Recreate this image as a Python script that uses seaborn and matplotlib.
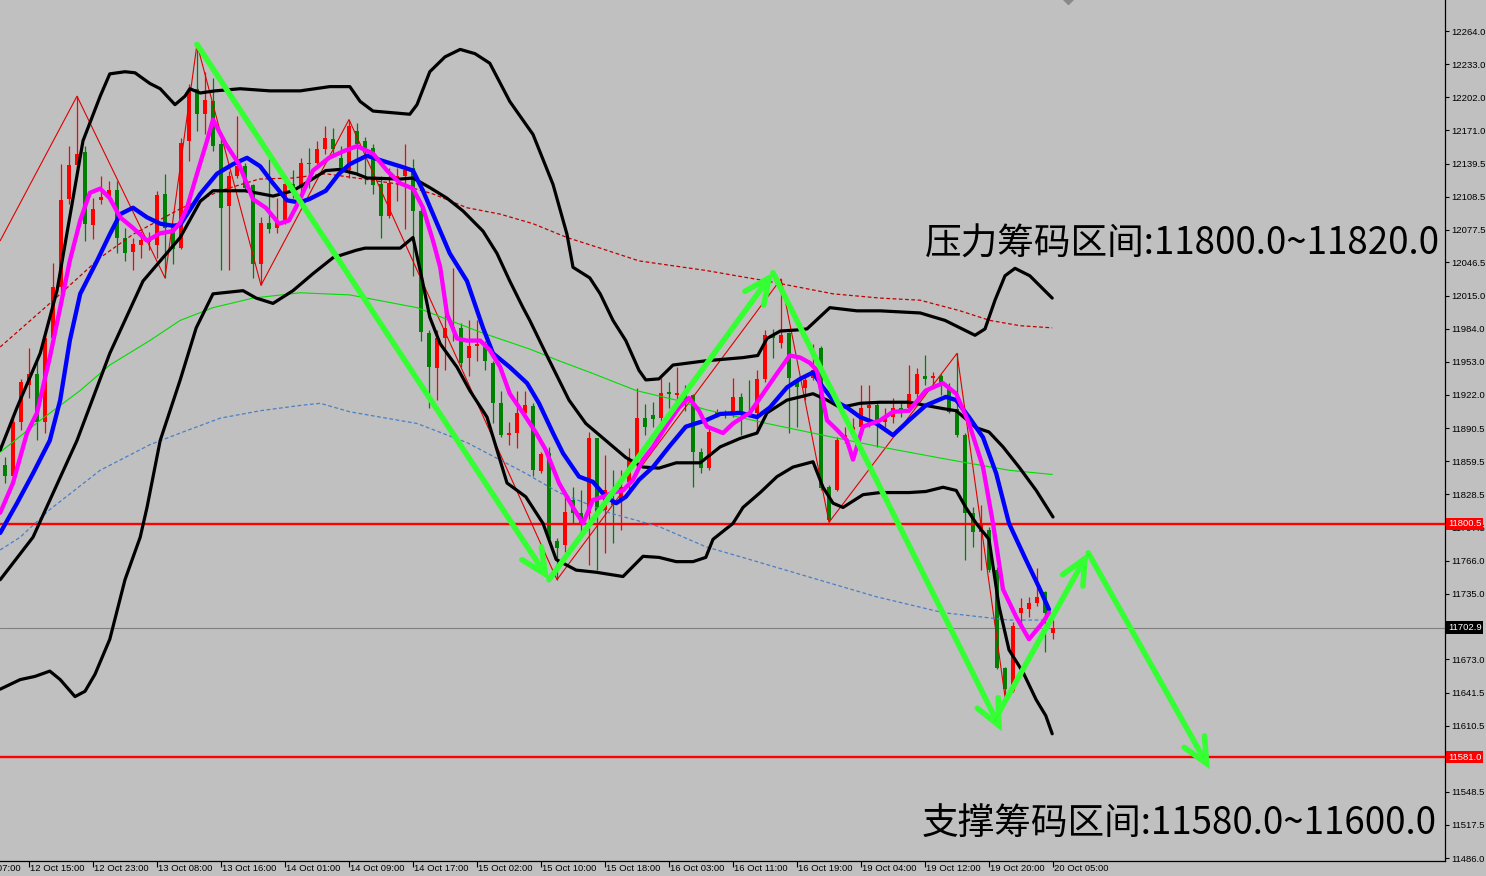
import numpy as np
import pandas as pd
import matplotlib
matplotlib.use("Agg")
import matplotlib.pyplot as plt
import matplotlib.transforms as mtransforms
import seaborn as sns

sns.set_theme(style="white")
plt.rcParams['font.family'] = ['Liberation Sans', 'DejaVu Sans']

# ---------------- candle data (hourly bars, index 0..131) ----------------
opens = [11856, 11846, 11896, 11931, 11942, 11896, 11975, 12023, 12106, 12138,
         12150, 12082, 12105, 12109, 12115, 12070, 12056, 12063, 12066, 12063,
         12111, 12078, 12060, 12161, 12210, 12186, 12198, 12158, 12100, 12128,
         12137, 12119, 12045, 12084, 12079, 12084, 12120, 12117, 12140, 12140,
         12153, 12163, 12145, 12134, 12170, 12161, 12154, 12120, 12090, 12125,
         12128, 12135, 12095, 11980, 11947, 11975, 11984, 11985, 11957, 11968,
         11967, 11952, 11914, 11884, 11886, 11905, 11911, 11850, 11867, 11784,
         11781, 11823, 11811, 11811, 11881, 11814, 11821, 11823, 11840, 11861,
         11900, 11903, 11900, 11924, 11922, 11923, 11922, 11868, 11853, 11903,
         11905, 11905, 11920, 11905, 11905, 11937, 11978, 11971, 11980, 11934,
         11928, 11938, 11966, 11835, 11832, 11882, 11889, 11892, 11910, 11912,
         11896, 11901, 11910, 11910, 11923, 11940, 11938, 11940, 11929, 11909,
         11884, 11811, 11793, 11795, 11757, 11665, 11643, 11717, 11720, 11726,
         11736, 11698]
highs = [11863, 11903, 11937, 11966, 11956, 11980, 12046, 12139, 12156, 12203,
         12156, 12107, 12128, 12123, 12123, 12079, 12070, 12076, 12075, 12114,
         12130, 12084, 12164, 12214, 12252, 12226, 12220, 12164, 12133, 12184,
         12140, 12120, 12089, 12144, 12107, 12126, 12134, 12145, 12154, 12161,
         12175, 12173, 12156, 12181, 12178, 12165, 12158, 12128, 12135, 12135,
         12158, 12144, 12098, 11983, 11983, 12011, 12041, 11990, 11992, 11992,
         11973, 11954, 11926, 11896, 11926, 11926, 11914, 11868, 11873, 11787,
         11830, 11835, 11832, 11887, 11881, 11865, 11851, 11851, 11872, 11928,
         11913, 11915, 11938, 11934, 11948, 11931, 11923, 11872, 11891, 11909,
         11908, 11938, 11924, 11936, 11945, 11983, 11984, 12031, 11981, 11936,
         11940, 11970, 11968, 11837, 11882, 11892, 11900, 11931, 11931, 11914,
         11910, 11919, 11915, 11950, 11947, 11959, 11943, 11942, 11933, 11961,
         11886, 11816, 11818, 11798, 11760, 11666, 11708, 11731, 11732, 11759,
         11737, 11710]
lows = [11839, 11845, 11889, 11919, 11879, 11886, 11973, 12017, 12102, 12135,
        12067, 12069, 12102, 12104, 12055, 12048, 12039, 12051, 12058, 12051,
        12032, 12045, 12059, 12142, 12170, 12167, 12151, 12039, 12039, 12126,
        12114, 12032, 12025, 12074, 12074, 12083, 12107, 12111, 12117, 12139,
        12149, 12149, 12131, 12126, 12131, 12120, 12111, 12070, 12088, 12104,
        12078, 12034, 11973, 11910, 11917, 11945, 11973, 11948, 11940, 11954,
        11945, 11895, 11882, 11875, 11872, 11901, 11846, 11848, 11783, 11748,
        11774, 11801, 11790, 11762, 11757, 11773, 11783, 11795, 11832, 11854,
        11884, 11892, 11895, 11910, 11917, 11907, 11835, 11848, 11851, 11901,
        11900, 11901, 11884, 11901, 11889, 11934, 11957, 11966, 11886, 11892,
        11917, 11936, 11832, 11802, 11831, 11877, 11887, 11886, 11892, 11873,
        11892, 11895, 11901, 11906, 11915, 11931, 11929, 11922, 11905, 11882,
        11767, 11779, 11757, 11755, 11664, 11638, 11642, 11704, 11713, 11723,
        11680, 11692]
closes = [11846, 11896, 11934, 11942, 11896, 11975, 12023, 12105, 12138, 12149,
          12083, 12097, 12108, 12115, 12070, 12055, 12064, 12068, 12067, 12110,
          12079, 12059, 12159, 12208, 12186, 12199, 12156, 12098, 12128, 12137,
          12117, 12045, 12084, 12078, 12086, 12120, 12114, 12140, 12139, 12153,
          12164, 12153, 12134, 12175, 12158, 12154, 12119, 12090, 12121, 12128,
          12134, 12095, 11981, 11948, 11975, 11985, 11986, 11952, 11968, 11970,
          11954, 11914, 11884, 11886, 11905, 11912, 11851, 11866, 11786, 11778,
          11812, 11811, 11801, 11881, 11811, 11832, 11818, 11835, 11861, 11900,
          11892, 11899, 11924, 11923, 11924, 11917, 11868, 11853, 11887, 11906,
          11904, 11920, 11905, 11903, 11937, 11978, 11975, 11978, 11938, 11929,
          11936, 11945, 11834, 11804, 11879, 11884, 11892, 11910, 11912, 11898,
          11901, 11910, 11907, 11923, 11942, 11937, 11940, 11933, 11906, 11884,
          11811, 11793, 11800, 11757, 11665, 11645, 11704, 11721, 11726, 11732,
          11717, 11702.9]

# ---------------- indicator lines (bar index, price) ----------------
bb_upper_x = [-0.6, 1.5, 4.4, 6.5, 9.75, 11.9, 13.1, 15, 16.25, 18.1, 19.4, 21.25, 22.5, 23.1, 24.4,
              26.25, 29.4, 33.1, 36.9, 40.6, 43.1, 44.4, 46, 50.6, 51.5, 53.1, 55, 56.9, 58.75,
              60.6, 63.1, 66, 68.5, 70.25, 71, 73.1, 74.4, 76, 77.6, 79.25, 80.1, 81.75, 83.5,
              87.6, 92.25, 94.1, 95.25, 96.9, 99, 100.25, 103.1, 106.5, 109.4, 114.4, 117.5,
              121.25, 122.5, 123.75, 125, 126.25, 128.1, 130.9]
bb_upper_y = [11870, 11910, 11961, 12020, 12161, 12203, 12224, 12226, 12225, 12215, 12210, 12195,
              12203, 12210, 12206, 12208, 12210, 12208, 12208, 12212, 12212, 12198, 12189, 12186,
              12195, 12226, 12240, 12247, 12243, 12234, 12198, 12167, 12120, 12073, 12042, 12032,
              12017, 11992, 11973, 11945, 11936, 11937, 11950, 11954, 11957, 11959, 11975, 11982,
              11983, 11984, 12004, 12001, 12001, 11999, 11992, 11978, 11984, 12011, 12034, 12041,
              12034, 12013]
bb_mid_x = [-0.6, 3.5, 9, 13.1, 17.25, 21.9, 24.4, 26, 30, 33.5, 36, 38, 40.1, 41.75, 43.9, 45.25,
            49.4, 51, 53.1, 55.25, 57.25, 59.75, 61.5, 63.1, 64.75, 65.6, 67.6, 70.5, 72.6, 75.1,
            77.6, 79.75, 81.75, 83.9, 86.9, 89.4, 91.9, 94, 95.25, 97.75, 99.4, 101, 102.75, 104.4,
            106.9, 109.4, 113, 115.1, 117.25, 118.9, 121.4, 123, 124.75, 126.75, 128.9, 131]
bb_mid_y = [11748, 11788, 11879, 11961, 12029, 12070, 12104, 12114, 12114, 12109, 12114, 12123,
            12133, 12134, 12130, 12126, 12125, 12126, 12117, 12107, 12095, 12076, 12055, 12029,
            12004, 11992, 11961, 11917, 11895, 11879, 11863, 11854, 11853, 11858, 11858, 11873,
            11881, 11886, 11905, 11917, 11920, 11923, 11917, 11910, 11914, 11915, 11915, 11912,
            11909, 11907, 11891, 11887, 11873, 11854, 11832, 11807]
bb_lower_x = [-0.6, 1.9, 3.75, 5.6, 6.9, 8.75, 10, 11.25, 13.1, 15, 16.9, 17.75, 19.4, 21.9, 23.9,
              26, 29.75, 31.4, 33.5, 36, 38.5, 41, 43.9, 45, 49.4, 51, 52.1, 53.1, 54.4, 56.5, 58.1,
              60.25, 61.5, 62.75, 65.1, 67.25, 68.9, 71.4, 73.9, 77.25, 79.75, 81.75, 83.9, 86,
              87.6, 88.5, 91, 92.25, 94.4, 96.5, 98.5, 101, 102.25, 103.5, 104.75, 107.25, 109.4,
              113, 115.1, 117.25, 118.9, 120.1, 121.4, 123, 124.25, 125.5, 127.25, 128.9, 130.1,
              130.9]
bb_lower_y = [11645, 11654, 11657, 11662, 11654, 11638, 11643, 11659, 11692, 11748, 11788, 11816,
              11879, 11936, 11985, 12017, 12020, 12013, 12008, 12020, 12036, 12051, 12058, 12060,
              12060, 12070, 12032, 11995, 11970, 11948, 11926, 11901, 11870, 11839, 11826, 11801,
              11767, 11757, 11755, 11751, 11770, 11769, 11765, 11765, 11769, 11786, 11801, 11816,
              11830, 11845, 11854, 11859, 11835, 11820, 11816, 11828, 11830, 11830, 11831, 11835,
              11832, 11816, 11801, 11786, 11723, 11682, 11661, 11635, 11620, 11603]
ma_blue_x = [-0.6, 1.5, 3.5, 5.6, 6.9, 8.1, 9.4, 11.5, 13.1, 14.4, 16, 17.75, 19.4, 21, 21.9, 24.4,
             26.5, 28.5, 30.25, 31.9, 33.5, 35.25, 36.75, 38, 40.1, 41.75, 43.1, 45.25, 47.25, 49.4,
             51, 52.25, 53.5, 55.6, 57.75, 59.75, 61, 63.1, 65.25, 66.75, 68.5, 69.75, 71.75, 73.5,
             75.1, 76.4, 77.6, 79.25, 81, 83, 85.1, 87.6, 89.4, 91.9, 94, 95.6, 97.75, 99.4, 101,
             102.25, 103.5, 105.25, 106.9, 108.9, 111, 113, 115.1, 117.6, 118.9, 120.5, 122.25,
             123.9, 125.5, 127.6, 129.25, 130.5]
ma_blue_y = [11792, 11820, 11848, 11879, 11917, 11973, 12017, 12048, 12073, 12092, 12098, 12089,
             12083, 12081, 12082, 12111, 12130, 12139, 12145, 12137, 12121, 12105, 12103, 12106,
             12114, 12130, 12139, 12147, 12142, 12137, 12133, 12114, 12092, 12055, 12029, 11985,
             11961, 11948, 11933, 11914, 11886, 11867, 11845, 11840, 11826, 11820, 11826, 11842,
             11854, 11873, 11892, 11898, 11904, 11905, 11901, 11910, 11929, 11937, 11943, 11929,
             11917, 11910, 11901, 11895, 11884, 11898, 11912, 11920, 11917, 11901, 11882, 11848,
             11801, 11767, 11741, 11720]
ma_mag_x = [-0.6, 1, 2.75, 4, 5.6, 6.9, 8.1, 9.4, 10.6, 11.9, 13.1, 14.4, 16, 17.75, 19.4, 21, 21.9,
            22.75, 24, 25.25, 26, 27.6, 29.25, 31, 32.6, 34.25, 35.5, 36.75, 38.5, 40.5, 42.25, 44,
            46, 47.75, 49.4, 51, 52.25, 53.5, 54.4, 55.25, 56.5, 57.75, 59.4, 60.6, 61.9, 63.1,
            64.75, 66.4, 67.6, 69.25, 71, 72.25, 73.5, 74.75, 76, 77.25, 78.5, 79.75, 81, 82.6,
            84.25, 85.5, 86.75, 87.75, 89.75, 91, 93.1, 94.75, 96.5, 98.1, 99.4, 100.6, 101.5,
            102.75, 104, 105.25, 106, 107.25, 109.4, 111, 113, 115.1, 117.25, 118.9, 120.5, 122.25,
            123.5, 124.75, 126.4, 128, 129.75, 130.5]
ma_mag_y = [11811, 11839, 11886, 11905, 11957, 12004, 12048, 12086, 12112, 12116, 12107, 12089,
            12079, 12067, 12074, 12076, 12084, 12098, 12130, 12161, 12181, 12158, 12139, 12106,
            12098, 12083, 12086, 12104, 12133, 12145, 12151, 12156, 12149, 12133, 12121, 12116,
            12098, 12067, 12042, 11998, 11975, 11973, 11973, 11964, 11948, 11923, 11905, 11886,
            11870, 11839, 11816, 11801, 11823, 11826, 11830, 11832, 11842, 11861, 11873, 11892,
            11910, 11919, 11907, 11892, 11886, 11895, 11905, 11923, 11942, 11959, 11957, 11952,
            11945, 11898, 11889, 11879, 11861, 11892, 11898, 11906, 11907, 11926, 11933, 11923,
            11895, 11854, 11801, 11739, 11713, 11692, 11708, 11717]
ma_green_x = [-0.6, 4.4, 9.4, 13.1, 18.1, 21.9, 26, 31, 36.9, 43.1, 51.5, 55.6, 59.75, 65.6, 69.25,
              73.5, 78.9, 83.9, 87.6, 95.25, 103.5, 109.4, 117.25, 125.5, 130.9]
ma_green_y = [11868, 11898, 11926, 11950, 11973, 11992, 12004, 12013, 12018, 12016, 12004, 11992,
              11980, 11965, 11954, 11942, 11926, 11917, 11908, 11895, 11882, 11873, 11862, 11851,
              11847]
ma_reddash_x = [-0.6, 5.6, 11.9, 16, 21.9, 26.9, 31.75, 36, 40.1, 43.9, 49.4, 53.5, 57.75, 61.9, 66,
                70.25, 74.4, 79.25, 87.6, 95.25, 99.4, 103.5, 109.4, 114.4, 119.4, 123.1, 126.9,
                130.9]
ma_reddash_y = [11967, 12008, 12051, 12073, 12097, 12114, 12125, 12126, 12130, 12126, 12120, 12111,
                12098, 12092, 12083, 12070, 12060, 12048, 12039, 12029, 12023, 12017, 12013, 12011,
                12001, 11992, 11987, 11985]
ma_bluedash_x = [-0.6, 1.9, 5.6, 11.9, 18.1, 21.9, 26.9, 31.9, 36.9, 39.4, 43.1, 51.5, 57.75, 65.1,
                 69.25, 75.5, 81.75, 87.6, 93.1, 99.4, 108.9, 117.25, 125.5, 130.5]
ma_bluedash_y = [11776, 11788, 11814, 11851, 11875, 11886, 11900, 11907, 11912, 11914, 11906, 11895,
                 11877, 11848, 11830, 11811, 11798, 11779, 11767, 11753, 11732, 11717, 11710, 11710]

# zigzag pivots: bar indices, alternating high / low
zigzag_idx = [9, 20, 24, 32, 43, 69, 97, 103, 119, 125]
zigzag_start = (-0.6, 12067)

# green hand-drawn arrows (bar index, price)
arrow_pts_x = [24.0, 68.0, 96.0, 124.6]
arrow_pts_y = [12251.7, 11748.0, 12036.9, 11605.4]
arrow2_pts_x = [124.1, 135.4, 150.6]
arrow2_pts_y = [11621.3, 11773.3, 11569.7]

# horizontal levels
level_resist = 11800.5
level_support = 11581.0
last_price = 11702.9

ytick_vals = [12264.0, 12233.0, 12202.0, 12171.0, 12139.5, 12108.5, 12077.5, 12046.5, 12015.0,
              11984.0, 11953.0, 11922.0, 11890.5, 11859.5, 11828.5, 11797.5, 11766.0, 11735.0,
              11673.0, 11641.5, 11610.5, 11548.5, 11517.5, 11486.0]
xtick_idx = [-5, 3, 11, 19, 27, 35, 43, 51, 59, 67, 75, 83, 91, 99, 107, 115, 123, 131]
xtick_labels = ["12 Oct 07:00", "12 Oct 15:00", "12 Oct 23:00", "13 Oct 08:00", "13 Oct 16:00",
                "14 Oct 01:00", "14 Oct 09:00", "14 Oct 17:00", "15 Oct 02:00", "15 Oct 10:00",
                "15 Oct 18:00", "16 Oct 03:00", "16 Oct 11:00", "16 Oct 19:00", "19 Oct 04:00",
                "19 Oct 12:00", "19 Oct 20:00", "20 Oct 05:00"]

text_resist = "压力筹码区间:11800.0~11820.0"
text_support = "支撑筹码区间:11580.0~11600.0"

# ---------------- figure ----------------
BG = '#c0c0c0'
fig = plt.figure(figsize=(14.86, 8.76), dpi=100, facecolor=BG)
ax = fig.add_axes([0, 15 / 876, 1445 / 1486, 861 / 876])
ax.set_facecolor(BG)
ax.set_xlim(-0.625, 180.0)
ax.set_ylim(11483.3, 12293.5)

df = pd.DataFrame({"o": opens, "h": highs, "l": lows, "c": closes})
df["i"] = np.arange(len(df))
up = df["c"] >= df["o"]
colors = np.where(up, '#ff0000', '#008000')

# wicks
ax.vlines(df["i"], df["l"], df["h"], colors=colors, linewidth=0.9, zorder=2)
# bodies
body_bottom = np.minimum(df["o"], df["c"])
body_h = np.maximum(np.abs(df["c"] - df["o"]), 1.2)
ax.bar(df["i"], body_h, bottom=body_bottom, width=0.62, color=colors, linewidth=0, zorder=3)

# horizontal levels
ax.axhline(last_price, color='#808080', lw=0.8, zorder=1)
ax.axhline(level_resist, color='#ff0000', lw=1.7, zorder=4)
ax.axhline(level_support, color='#ff0000', lw=1.7, zorder=4)

# zigzag
zz_x = [zigzag_start[0]]
zz_y = [zigzag_start[1]]
for k, idx in enumerate(zigzag_idx):
    zz_x.append(idx)
    zz_y.append(highs[idx] if k % 2 == 0 else lows[idx])
sns.lineplot(x=zz_x, y=zz_y, ax=ax, color='#e00000', linewidth=0.8, sort=False,
             estimator=None, legend=False, zorder=4)

# moving averages / bands
sns.lineplot(x=ma_bluedash_x, y=ma_bluedash_y, ax=ax, color='#4a7fc8', linewidth=0.9,
             linestyle=(0, (3, 2)), sort=False, estimator=None, legend=False, zorder=4)
sns.lineplot(x=ma_reddash_x, y=ma_reddash_y, ax=ax, color='#c00000', linewidth=0.9,
             linestyle=(0, (3, 2)), sort=False, estimator=None, legend=False, zorder=4)
sns.lineplot(x=ma_green_x, y=ma_green_y, ax=ax, color='#00dd00', linewidth=0.8,
             sort=False, estimator=None, legend=False, zorder=4)
for bx, by in [(bb_upper_x, bb_upper_y), (bb_mid_x, bb_mid_y), (bb_lower_x, bb_lower_y)]:
    sns.lineplot(x=bx, y=by, ax=ax, color='black', linewidth=2.3, sort=False,
                 estimator=None, legend=False, zorder=5)
sns.lineplot(x=ma_blue_x, y=ma_blue_y, ax=ax, color='#0000ff', linewidth=3.1, sort=False,
             estimator=None, legend=False, zorder=6)
sns.lineplot(x=ma_mag_x, y=ma_mag_y, ax=ax, color='#ff00ff', linewidth=3.1, sort=False,
             estimator=None, legend=False, zorder=6)

# green arrows
ARROW = '#33ff33'
for pts_x, pts_y in [(arrow_pts_x, arrow_pts_y), (arrow2_pts_x, arrow2_pts_y)]:
    for k in range(len(pts_x) - 1):
        ax.annotate('', xy=(pts_x[k + 1], pts_y[k + 1]), xytext=(pts_x[k], pts_y[k]),
                    arrowprops=dict(arrowstyle='->,head_length=0.9,head_width=0.42',
                                    color=ARROW, lw=4.0, shrinkA=0, shrinkB=0,
                                    mutation_scale=20, capstyle='round', joinstyle='miter'),
                    annotation_clip=False, zorder=8)

# small gray marker at top
ax.plot([132.9], [12296], marker='D', ms=7, color='#8a8a8a', clip_on=True, zorder=2)

# ---------------- axes styling ----------------
for s in ['left', 'top']:
    ax.spines[s].set_visible(False)
for s in ['right', 'bottom']:
    ax.spines[s].set_color('black')
    ax.spines[s].set_linewidth(0.9)

ax.yaxis.tick_right()
ax.set_yticks(ytick_vals)
ax.set_yticklabels([f"{v:.1f}" for v in ytick_vals])
ax.tick_params(axis='y', which='major', right=True, left=False, direction='out', length=3,
               width=0.8, pad=1.5, labelsize=6.8, colors='black')

ax.set_xticks([i for i in xtick_idx if i >= 0])
ax.set_xticklabels([])
ax.tick_params(axis='x', which='major', bottom=True, direction='out', length=4, width=0.8,
               colors='black')

trans_x = mtransforms.blended_transform_factory(ax.transData, ax.transAxes) + \
    mtransforms.ScaledTranslation(2 / 100, -3 / 100, fig.dpi_scale_trans)
for i, lab in zip(xtick_idx, xtick_labels):
    ax.text(i - 0.15, 0, lab, transform=trans_x, ha='left', va='top', fontsize=6.8,
            color='black', clip_on=False)

# price boxes on the right axis
trans_y = mtransforms.blended_transform_factory(ax.transAxes, ax.transData) + \
    mtransforms.ScaledTranslation(3 / 100, 0, fig.dpi_scale_trans)
for val, fc in [(level_resist, '#ff0000'), (last_price, '#000000'), (level_support, '#ff0000')]:
    ax.text(1.0, val, f"{val:.1f}", transform=trans_y, ha='left', va='center', fontsize=6.8,
            color='white', clip_on=False, zorder=10,
            bbox=dict(boxstyle='square,pad=0.18', fc=fc, ec='none'))

# Chinese annotations
cjk = ['Noto Sans CJK SC', 'DejaVu Sans']
ax.text(925 / 1445, 1 - 244 / 861, text_resist, transform=ax.transAxes, ha='left', va='center',
        fontsize=26.4, family=cjk, color='black', zorder=9)
ax.text(922 / 1445, 1 - 823 / 861, text_support, transform=ax.transAxes, ha='left', va='center',
        fontsize=26.4, family=cjk, color='black', zorder=9)

fig.savefig('out.png', dpi=100, facecolor=BG)
